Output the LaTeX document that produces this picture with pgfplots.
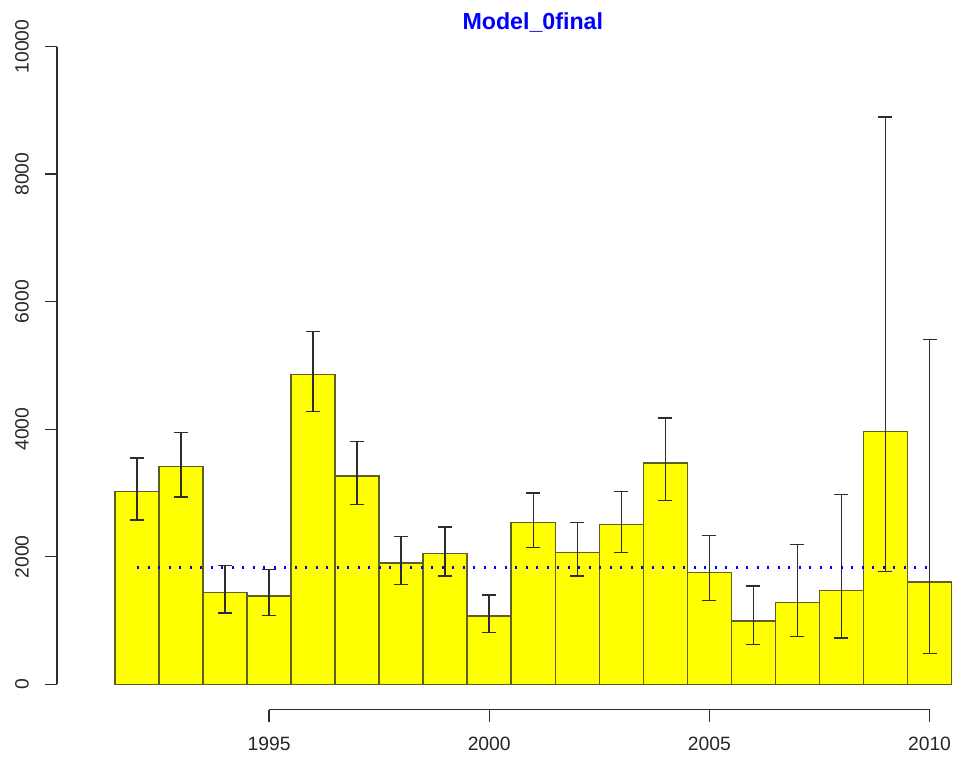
\documentclass[border=0pt]{standalone}
\usepackage{fontspec}
\setmainfont{Liberation Sans}
\usepackage{pgfplots}
\pgfplotsset{compat=1.18}
\usepackage{pgfplotstable}

\definecolor{barfill}{RGB}{255,255,0}
\definecolor{barline}{RGB}{95,95,35}
\definecolor{errcol}{RGB}{45,45,45}

% year, estimate, upper and lower limit
\pgfplotstableread{
year value up down
1992 3020 3548 2576
1993 3412 3950 2937
1994 1440 1864 1117
1995 1388 1801 1075
1996 4855 5530 4275
1997 3266 3804 2816
1998 1901 2314 1561
1999 2052 2469 1701
2000 1074 1400 812
2001 2533 2999 2144
2002 2066 2533 1701
2003 2502 3024 2066
2004 3467 4173 2881
2005 1749 2329 1314
2006 996 1540 624
2007 1283 2188 750
2008 1467 2977 729
2009 3965 8893 1765
2010 1603 5407 483
}\estimates

\begin{document}
\begin{tikzpicture}[x=1pt,y=1pt]
\useasboundingbox (0,0) rectangle (958,760);
\begin{axis}[
    at={(57pt,50.2pt)}, anchor=south west,
    scale only axis, width=901pt, height=688.8pt,
    xmin=1990.183, xmax=2010.647, ymin=-400, ymax=10400,
    axis lines*=left, axis line style={draw=none},
    clip=false,
    xtick={1995,2000,2005,2010}, ytick={0,2000,...,10000},
    tick align=outside, major tick length=12pt,
    tick style={errcol, line width=1.2pt},
    scaled ticks=false,
    /pgf/number format/1000 sep={},
    /pgf/number format/assume math mode=true,
    ticklabel style={font=\fontsize{19.3}{20}\selectfont, text=black!85, inner sep=0pt},
    xticklabel style={anchor=north, yshift=-15pt},
    yticklabel style={xshift=-16pt, rotate=90, anchor=south},
]
\addplot[ybar, bar width=1, fill=barfill, draw=barline, line width=1.5pt,
    error bars/.cd, y dir=both, y explicit,
    error bar style={errcol, line width=1.5pt},
    error mark options={errcol, line width=1.5pt, mark size=7pt, rotate=90}]
    table[x=year, y=value,
          y error plus expr=\thisrow{up}-\thisrow{value},
          y error minus expr=\thisrow{value}-\thisrow{down}] {\estimates};
\addplot[draw=blue, line width=2.4pt, dash pattern=on 2pt off 8.5pt]
    coordinates {(1992,1832) (2010,1832)};
\draw[errcol, line width=1.2pt] (axis cs:1990.183,0) -- (axis cs:1990.183,10000);
\draw[errcol, line width=1.2pt] (axis cs:1995,-400) -- (axis cs:2010,-400);
\node[font=\fontsize{23.2}{24}\selectfont\bfseries, text=blue]
    at (axis cs:2000.99,10384) {Model\_0final};
\end{axis}
\end{tikzpicture}
\end{document}
